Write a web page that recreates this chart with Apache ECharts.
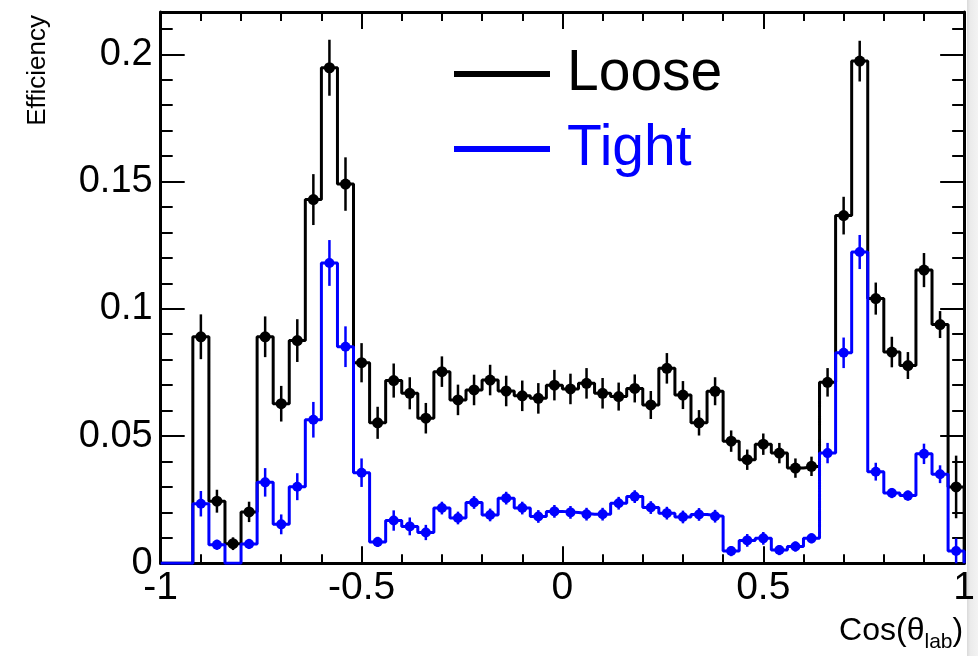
<!DOCTYPE html>
<html>
<head>
<meta charset="utf-8">
<title>Efficiency vs Cos(theta_lab)</title>
<script src="https://cdn.jsdelivr.net/npm/echarts@6.0.0/dist/echarts.min.js"></script>
<style>
html, body { margin: 0; padding: 0; background: #fff; }
#main { width: 978px; height: 656px; }
</style>
</head>
<body>
<div id="main"></div>
<script>
// histogram binning: 50 bins of 0.04 from -1 to 1
var binStart = -1
var binWidth = 0.04

// Loose selection, efficiency per bin
var looseValues = [
  0, 0, 0.089, 0.0244, 0.0077, 0.0202, 0.089, 0.0627, 0.0875, 0.1429,
  0.1947, 0.149, 0.0788, 0.0552, 0.0718, 0.0668, 0.057, 0.0753, 0.0642, 0.0681,
  0.072, 0.0677, 0.0658, 0.0648, 0.070, 0.0685, 0.0707, 0.0668, 0.0655, 0.0687,
  0.0622, 0.0766, 0.0661, 0.0552, 0.0676, 0.048, 0.0407, 0.0468, 0.0433, 0.0374,
  0.0381, 0.0711, 0.1366, 0.1973, 0.104, 0.083, 0.0777, 0.1152, 0.0938, 0.030
]
var looseErrors = [
  0, 0, 0.0088, 0.0045, 0.0025, 0.004, 0.008, 0.007, 0.0084, 0.010,
  0.011, 0.0105, 0.0077, 0.0063, 0.0067, 0.0063, 0.006, 0.006, 0.006, 0.006,
  0.006, 0.006, 0.006, 0.006, 0.006, 0.006, 0.006, 0.006, 0.0055, 0.0055,
  0.0055, 0.006, 0.0055, 0.005, 0.0055, 0.0042, 0.004, 0.0042, 0.004, 0.0038,
  0.0038, 0.0056, 0.0074, 0.008, 0.0063, 0.006, 0.0053, 0.0067, 0.0053, 0.0123
]

// Tight selection
var tightValues = [
  0, 0, 0.0234, 0.0073, 0, 0.0076, 0.0318, 0.0153, 0.0301, 0.0564,
  0.118, 0.0851, 0.0356, 0.0084, 0.0168, 0.0145, 0.0121, 0.0217, 0.0178, 0.0239,
  0.019, 0.0256, 0.0217, 0.0184, 0.0204, 0.020, 0.0193, 0.0193, 0.0236, 0.0262,
  0.0219, 0.0197, 0.0182, 0.0192, 0.0185, 0.0048, 0.009, 0.0098, 0.0052, 0.0066,
  0.0098, 0.0433, 0.0827, 0.1223, 0.036, 0.0276, 0.0266, 0.043, 0.035, 0.0048
]
var tightErrors = [
  0, 0, 0.005, 0.002, 0, 0.002, 0.0056, 0.0039, 0.0053, 0.007,
  0.009, 0.008, 0.0056, 0.002, 0.004, 0.0035, 0.003, 0.0025, 0.0025, 0.0025,
  0.0025, 0.0025, 0.0025, 0.0025, 0.0025, 0.0025, 0.0025, 0.0025, 0.0025, 0.0025,
  0.0025, 0.0025, 0.0025, 0.0025, 0.0025, 0.002, 0.0025, 0.0025, 0.002, 0.002,
  0.002, 0.004, 0.006, 0.0067, 0.0035, 0.002, 0.002, 0.004, 0.0035, 0.005
]

// axis ticks
var yMax = 0.2166
var yMajorTicks = [0, 0.05, 0.1, 0.15, 0.2]
var yMinorTicks = [0.01, 0.02, 0.03, 0.04, 0.06, 0.07, 0.08, 0.09, 0.11, 0.12,
  0.13, 0.14, 0.16, 0.17, 0.18, 0.19, 0.21]

var fontFamily = '"Liberation Sans", Arial, Helvetica, sans-serif'

// step outline: left edge of every bin, then close at x = 1
function stepData(values) {
  var pts = []
  for (var i = 0; i < values.length; i++) {
    pts.push([binStart + i * binWidth, values[i]])
  }
  pts.push([binStart + values.length * binWidth, 0])
  return pts
}

// points with errors at bin centres (empty bins are not drawn)
function pointData(values, errors) {
  var pts = []
  for (var i = 0; i < values.length; i++) {
    if (values[i] > 0) {
      pts.push([binStart + (i + 0.5) * binWidth, values[i], errors[i]])
    }
  }
  return pts
}

function errorPoint(color, r) {
  return function (params, api) {
    var x = api.value(0), y = api.value(1), e = api.value(2)
    var c = api.coord([x, y])
    var hi = api.coord([x, y + e])
    var lo = api.coord([x, Math.max(0, y - e)])
    return {
      type: 'group',
      children: [
        { type: 'line', shape: { x1: c[0], y1: hi[1], x2: c[0], y2: lo[1] },
          style: { stroke: color, lineWidth: 2.5 } },
        { type: 'circle', shape: { cx: c[0], cy: c[1], r: r },
          style: { fill: color } }
      ]
    }
  }
}

var myChart = echarts.init(document.getElementById('main'))

var tickStyle = { color: '#000', width: 2 }
var frameLine = { onZero: false, lineStyle: { color: '#000', width: 3 } }

var option = {
  animation: false,
  backgroundColor: '#fff',
  grid: { left: 160.7, right: 11.3, top: 12, bottom: 92.7 },
  graphic: [
    {
      type: 'rect', z: -10, left: 967, top: 0,
      shape: { width: 11, height: 656 },
      style: {
        fill: new echarts.graphic.LinearGradient(0, 0, 1, 0, [
          { offset: 0, color: '#d9d9d9' },
          { offset: 0.3, color: '#ebebeb' },
          { offset: 1, color: '#f3f3f3' }
        ])
      }
    }
  ],
  legend: {
    orient: 'vertical',
    left: 449,
    top: 36,
    icon: 'rect',
    itemWidth: 96,
    itemHeight: 6,
    itemGap: 9,
    textStyle: { fontSize: 57, fontFamily: fontFamily, lineHeight: 66, padding: [0, 0, 0, 12] },
    data: [
      { name: 'Loose', textStyle: { color: '#000' } },
      { name: 'Tight', textStyle: { color: '#0000ff' } }
    ]
  },
  xAxis: [
    {
      type: 'value', position: 'bottom', min: -1, max: 1, interval: 0.5,
      name: 'Cos(θ{sub|lab})',
      nameLocation: 'end', nameGap: -1, nameMoveOverlap: false,
      nameTextStyle: {
        color: '#000', fontSize: 32, fontFamily: fontFamily, align: 'right',
        verticalAlign: 'top', lineHeight: 42, padding: [47, 0, 0, 0],
        rich: { sub: { fontSize: 21, fontFamily: fontFamily, verticalAlign: 'bottom', lineHeight: 42 } }
      },
      axisLine: frameLine,
      axisTick: { inside: true, length: 17, lineStyle: tickStyle },
      minorTick: { show: true, splitNumber: 5, length: 9, lineStyle: tickStyle },
      axisLabel: { fontSize: 39, color: '#000', fontFamily: fontFamily, margin: 5 },
      splitLine: { show: false }
    },
    {
      type: 'value', position: 'top', min: -1, max: 1, interval: 0.5,
      axisLine: frameLine,
      axisTick: { inside: true, length: 17, lineStyle: tickStyle },
      minorTick: { show: true, splitNumber: 5, length: 9, lineStyle: tickStyle },
      axisLabel: { show: false },
      splitLine: { show: false }
    }
  ],
  yAxis: [
    {
      type: 'value', position: 'left', min: 0, max: yMax,
      name: 'Efficiency',
      nameLocation: 'end', nameRotate: 90, nameGap: -3, nameMoveOverlap: false,
      nameTextStyle: {
        color: '#000', fontSize: 26, fontFamily: fontFamily,
        align: 'right', verticalAlign: 'bottom', padding: [0, 0, 110, 0]
      },
      axisLine: frameLine,
      axisTick: { inside: true, length: 24, customValues: yMajorTicks, lineStyle: tickStyle },
      axisLabel: { customValues: yMajorTicks, fontSize: 38, color: '#000', fontFamily: fontFamily, margin: 8 },
      splitLine: { show: false }
    },
    {
      type: 'value', position: 'left', min: 0, max: yMax,
      axisLine: { show: false, onZero: false },
      axisTick: { inside: true, length: 12, customValues: yMinorTicks, lineStyle: tickStyle },
      axisLabel: { show: false },
      splitLine: { show: false }
    },
    {
      type: 'value', position: 'right', min: 0, max: yMax,
      axisLine: frameLine,
      axisTick: { inside: true, length: 24, customValues: yMajorTicks, lineStyle: tickStyle },
      axisLabel: { show: false },
      splitLine: { show: false }
    },
    {
      type: 'value', position: 'right', min: 0, max: yMax,
      axisLine: { show: false, onZero: false },
      axisTick: { inside: true, length: 12, customValues: yMinorTicks, lineStyle: tickStyle },
      axisLabel: { show: false },
      splitLine: { show: false }
    }
  ],
  series: [
    {
      name: 'Loose', type: 'line', step: 'end', symbol: 'none',
      color: '#000',
      lineStyle: { color: '#000', width: 3 },
      data: stepData(looseValues), z: 2
    },
    {
      name: 'Loose', type: 'custom', color: '#000',
      renderItem: errorPoint('#000', 5.5),
      encode: { x: 0, y: 1 },
      data: pointData(looseValues, looseErrors), z: 3
    },
    {
      name: 'Tight', type: 'line', step: 'end', symbol: 'none',
      color: '#0000ff',
      lineStyle: { color: '#0000ff', width: 3 },
      data: stepData(tightValues), z: 4
    },
    {
      name: 'Tight', type: 'custom', color: '#0000ff',
      renderItem: errorPoint('#0000ff', 5),
      encode: { x: 0, y: 1 },
      data: pointData(tightValues, tightErrors), z: 5
    }
  ]
}

myChart.setOption(option)
</script>
</body>
</html>
